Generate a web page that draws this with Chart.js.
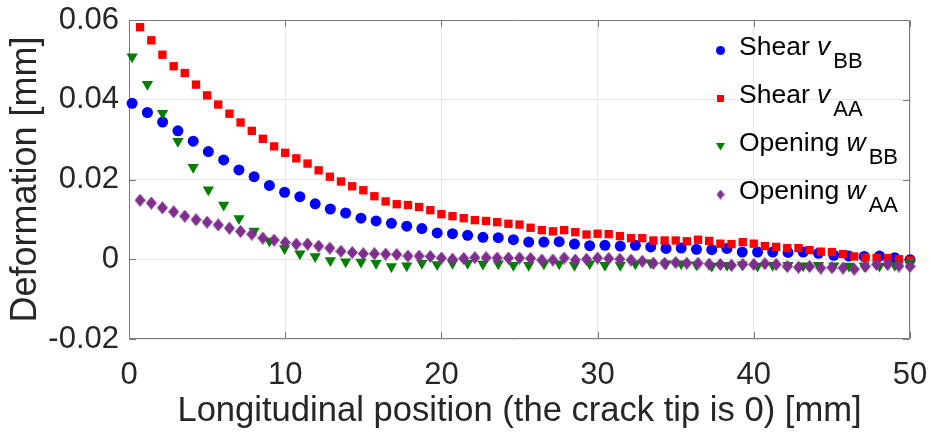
<!DOCTYPE html>
<html>
<head>
<meta charset="utf-8">
<script src="https://cdn.jsdelivr.net/npm/chart.js@4.4.0/dist/chart.umd.min.js"></script>
<style>
  html, body { margin: 0; padding: 0; background: #fff; }
  #wrap { width: 931px; height: 432px; }
</style>
</head>
<body>
<div id="wrap"><canvas id="deformationChart"></canvas></div>
<script>
// Sample positions along the crack [mm]
const posBB = [0.2, 1.18, 2.15, 3.13, 4.11, 5.08, 6.06, 7.04, 8.01, 8.99, 9.96, 10.94, 11.92,
  12.89, 13.87, 14.85, 15.82, 16.8, 17.78, 18.75, 19.73, 20.71, 21.68, 22.66, 23.64, 24.61,
  25.59, 26.56, 27.54, 28.52, 29.49, 30.47, 31.45, 32.42, 33.4, 34.38, 35.35, 36.33, 37.31,
  38.28, 39.26, 40.24, 41.21, 42.19, 43.16, 44.14, 45.12, 46.09, 47.07, 48.05, 49.02, 50];
const posAA = [0.71, 1.43, 2.14, 2.86, 3.57, 4.29, 5, 5.71, 6.43, 7.14, 7.86, 8.57, 9.29, 10,
  10.71, 11.43, 12.14, 12.86, 13.57, 14.29, 15, 15.71, 16.43, 17.14, 17.86, 18.57, 19.29, 20,
  20.71, 21.43, 22.14, 22.86, 23.57, 24.29, 25, 25.71, 26.43, 27.14, 27.86, 28.57, 29.29, 30,
  30.71, 31.43, 32.14, 32.86, 33.57, 34.29, 35, 35.71, 36.43, 37.14, 37.86, 38.57, 39.29, 40,
  40.71, 41.43, 42.14, 42.86, 43.57, 44.29, 45, 45.71, 46.43, 47.14, 47.86, 48.57, 49.29, 50];

// Deformation [mm]
const shearBB = [0.0391, 0.0368, 0.0344, 0.0322, 0.0296, 0.0270, 0.0249, 0.0224, 0.0207, 0.0185,
  0.0168, 0.0157, 0.0139, 0.0126, 0.0116, 0.0103, 0.0096, 0.0090, 0.0083, 0.0077, 0.0066, 0.0064,
  0.0060, 0.0055, 0.0054, 0.0049, 0.0043, 0.0043, 0.0044, 0.0038, 0.0034, 0.0035, 0.0033, 0.0035,
  0.0031, 0.0027, 0.0028, 0.0025, 0.0024, 0.0027, 0.0018, 0.0018, 0.0018, 0.0017, 0.0018, 0.0015,
  0.0010, 0.0008, 0.0007, 0.0008, 0.0004, -0.0001];
const shearAA = [0.0582, 0.0549, 0.0513, 0.0484, 0.0467, 0.0438, 0.0411, 0.0388, 0.0365, 0.0343,
  0.0322, 0.0302, 0.0283, 0.0267, 0.0253, 0.0240, 0.0223, 0.0207, 0.0195, 0.0183, 0.0173, 0.0158,
  0.0145, 0.0138, 0.0136, 0.0131, 0.0123, 0.0113, 0.0108, 0.0103, 0.0098, 0.0096, 0.0093, 0.0089,
  0.0087, 0.0079, 0.0073, 0.0070, 0.0073, 0.0068, 0.0062, 0.0064, 0.0063, 0.0058, 0.0053, 0.0053,
  0.0047, 0.0047, 0.0047, 0.0045, 0.0049, 0.0046, 0.0039, 0.0038, 0.0043, 0.0039, 0.0033, 0.0031,
  0.0028, 0.0028, 0.0023, 0.0019, 0.0018, 0.0013, 0.0007, 0.0004, 0.0003, 0.0003, 0.0000, -0.0003];
const openingBB = [0.0508, 0.0439, 0.0366, 0.0296, 0.0231, 0.0174, 0.0136, 0.0102, 0.0071, 0.0046,
  0.0027, 0.0014, 0.0007, -0.0003, -0.0006, -0.0007, -0.0010, -0.0018, -0.0016, -0.0010, -0.0013,
  -0.0010, -0.0010, -0.0012, -0.0011, -0.0015, -0.0015, -0.0011, -0.0011, -0.0015, -0.0011, -0.0015,
  -0.0015, -0.0011, -0.0009, -0.0011, -0.0011, -0.0014, -0.0017, -0.0015, -0.0014, -0.0017, -0.0015,
  -0.0015, -0.0016, -0.0015, -0.0016, -0.0017, -0.0016, -0.0017, -0.0015, -0.0010];
const openingAA = [0.0148, 0.0141, 0.0129, 0.0119, 0.0108, 0.0099, 0.0093, 0.0086, 0.0078, 0.0070,
  0.0063, 0.0053, 0.0048, 0.0042, 0.0038, 0.0038, 0.0033, 0.0028, 0.0020, 0.0017, 0.0014, 0.0014,
  0.0013, 0.0012, 0.0008, 0.0008, 0.0007, 0.0003, 0.0000, 0.0002, 0.0004, 0.0004, 0.0003, 0.0003,
  0.0003, 0.0002, -0.0002, -0.0002, 0.0003, -0.0002, 0.0000, 0.0003, 0.0002, 0.0000, -0.0002, -0.0005,
  -0.0010, -0.0010, -0.0008, -0.0010, -0.0010, -0.0012, -0.0013, -0.0015, -0.0013, -0.0013, -0.0011,
  -0.0013, -0.0018, -0.0020, -0.0018, -0.0022, -0.0021, -0.0022, -0.0025, -0.0018, -0.0013, -0.0013,
  -0.0017, -0.0018];

const xTicks = [0, 10, 20, 30, 40, 50];
const xTickLabels = ['0', '10', '20', '30', '40', '50'];
const yTicks = [-0.02, 0, 0.02, 0.04, 0.06];
const yTickLabels = ['-0.02', '0', '0.02', '0.04', '0.06'];

// legend text: plain part, italic symbol, subscript
const seriesNames = [
  ['Shear ', 'v', 'BB'],
  ['Shear ', 'v', 'AA'],
  ['Opening ', 'w', 'BB'],
  ['Opening ', 'w', 'AA']
];

const FONT = "'Liberation Sans', Arial, sans-serif";
const TEXT = '#262626';
const AXIS = '#7a7a7a';

const toPoints = (xs, ys) => xs.map((x, i) => ({ x, y: ys[i] }));

// diamond marker, a bit taller than wide
function diamond(w, h, color) {
  const c = document.createElement('canvas');
  c.width = w;
  c.height = h;
  const g = c.getContext('2d');
  g.fillStyle = color;
  g.beginPath();
  g.moveTo(w / 2, 0);
  g.lineTo(w, h / 2);
  g.lineTo(w / 2, h);
  g.lineTo(0, h / 2);
  g.closePath();
  g.fill();
  return c;
}

const purple = '#7E2F8E';
const diamondBig = diamond(11, 13, purple);
const diamondSmall = diamond(8, 10, purple);

// box around the plot with inward ticks on all four sides
const axesBox = {
  id: 'axesBox',
  beforeDatasetsDraw(chart) {
    const { ctx, chartArea: a, scales: { x, y } } = chart;
    const L = Math.round(a.left) + 0.5, R = Math.round(a.right) - 0.5;
    const T = Math.round(a.top) + 0.5, B = Math.round(a.bottom) - 0.5;
    const len = 6.5;
    ctx.save();
    ctx.strokeStyle = AXIS;
    ctx.lineWidth = 1;
    ctx.beginPath();
    ctx.rect(L, T, R - L, B - T);
    xTicks.forEach(v => {
      const px = Math.round(x.getPixelForValue(v)) + 0.5;
      ctx.moveTo(px, B); ctx.lineTo(px, B - len);
      ctx.moveTo(px, T); ctx.lineTo(px, T + len);
    });
    yTicks.forEach(v => {
      const py = Math.round(y.getPixelForValue(v)) + 0.5;
      ctx.moveTo(L, py); ctx.lineTo(L + len, py);
      ctx.moveTo(R, py); ctx.lineTo(R - len, py);
    });
    ctx.stroke();
    ctx.restore();
  }
};

function legendMarker(ctx, i, color, cx, cy) {
  ctx.fillStyle = color;
  ctx.beginPath();
  if (i === 0) {
    ctx.arc(cx, cy, 4.5, 0, Math.PI * 2);
    ctx.fill();
  } else if (i === 1) {
    ctx.fillRect(cx - 3.5, cy - 3.5, 7, 7);
  } else if (i === 2) {
    ctx.moveTo(cx - 4.5, cy - 3.5);
    ctx.lineTo(cx + 4.5, cy - 3.5);
    ctx.lineTo(cx, cy + 4);
    ctx.closePath();
    ctx.fill();
  } else {
    ctx.drawImage(diamondSmall, cx - 4, cy - 5);
  }
}

// legend with italic symbols and subscripts
const subLegend = {
  id: 'subLegend',
  afterDraw(chart) {
    const ctx = chart.ctx;
    ctx.save();
    ctx.textBaseline = 'alphabetic';
    chart.data.datasets.forEach((ds, i) => {
      const base = 54.5 + i * 48;
      legendMarker(ctx, i, ds.backgroundColor, 720.5, base - 4);
      const [plain, sym, sub] = seriesNames[i];
      let x = 739;
      ctx.fillStyle = '#000';
      ctx.font = `26.5px ${FONT}`;
      ctx.fillText(plain, x, base);
      x += ctx.measureText(plain).width;
      ctx.font = `italic 26.5px ${FONT}`;
      ctx.fillText(sym, x, base);
      x += ctx.measureText(sym).width + 3;
      ctx.font = `22px ${FONT}`;
      ctx.fillText(sub, x, base + 13.5);
    });
    ctx.restore();
  }
};

Chart.defaults.font.family = FONT;
Chart.defaults.color = TEXT;

new Chart(document.getElementById('deformationChart'), {
  type: 'scatter',
  data: {
    datasets: [
      {
        label: 'Shear vBB',
        data: toPoints(posBB, shearBB),
        backgroundColor: '#0000FF',
        borderWidth: 0,
        pointStyle: 'circle',
        pointRadius: 5.5,
        order: 4,
        clip: false
      },
      {
        label: 'Shear vAA',
        data: toPoints(posAA, shearAA),
        backgroundColor: '#FF0000',
        borderWidth: 0,
        pointStyle: 'rect',
        pointRadius: 5.9,
        order: 3,
        clip: false
      },
      {
        label: 'Opening wBB',
        data: toPoints(posBB, openingBB),
        backgroundColor: '#007F00',
        borderWidth: 0,
        pointStyle: 'triangle',
        rotation: 180,
        pointRadius: 6.5,
        order: 2,
        clip: false
      },
      {
        label: 'Opening wAA',
        data: toPoints(posAA, openingAA),
        backgroundColor: purple,
        borderWidth: 0,
        pointStyle: diamondBig,
        order: 1,
        clip: false
      }
    ]
  },
  options: {
    responsive: true,
    maintainAspectRatio: false,
    animation: false,
    layout: { padding: { left: 0, top: 20, right: 21, bottom: 0 } },
    plugins: {
      legend: { display: false },
      tooltip: { enabled: false }
    },
    scales: {
      x: {
        type: 'linear',
        min: 0,
        max: 50,
        afterFit: s => {
          s.height = 93;
          // the "50" label may hang past the plot edge
          s.paddingLeft = 0;
          s.paddingRight = 0;
        },
        afterBuildTicks: s => { s.ticks = xTicks.map(value => ({ value })); },
        ticks: {
          padding: 18,
          font: { size: 31 },
          color: TEXT,
          maxRotation: 0,
          callback: (v, i) => xTickLabels[i]
        },
        grid: { color: '#E6E6E6', drawTicks: false },
        border: { display: false },
        title: {
          display: true,
          text: 'Longitudinal position (the crack tip is 0) [mm]',
          font: { size: 34.6 },
          color: TEXT,
          padding: { top: 0, bottom: 0 }
        }
      },
      y: {
        type: 'linear',
        min: -0.02,
        max: 0.06,
        afterFit: s => {
          s.width = 129;
          s.paddingTop = 0;
          s.paddingBottom = 0;
        },
        afterBuildTicks: s => { s.ticks = yTicks.map(value => ({ value })); },
        ticks: {
          padding: 10,
          font: { size: 31 },
          color: TEXT,
          callback: (v, i) => yTickLabels[i]
        },
        grid: { color: '#E6E6E6', drawTicks: false },
        border: { display: false },
        title: {
          display: true,
          text: 'Deformation [mm]',
          font: { size: 36 },
          color: TEXT,
          padding: { top: 4, bottom: 0 }
        }
      }
    }
  },
  plugins: [axesBox, subLegend]
});
</script>
</body>
</html>
